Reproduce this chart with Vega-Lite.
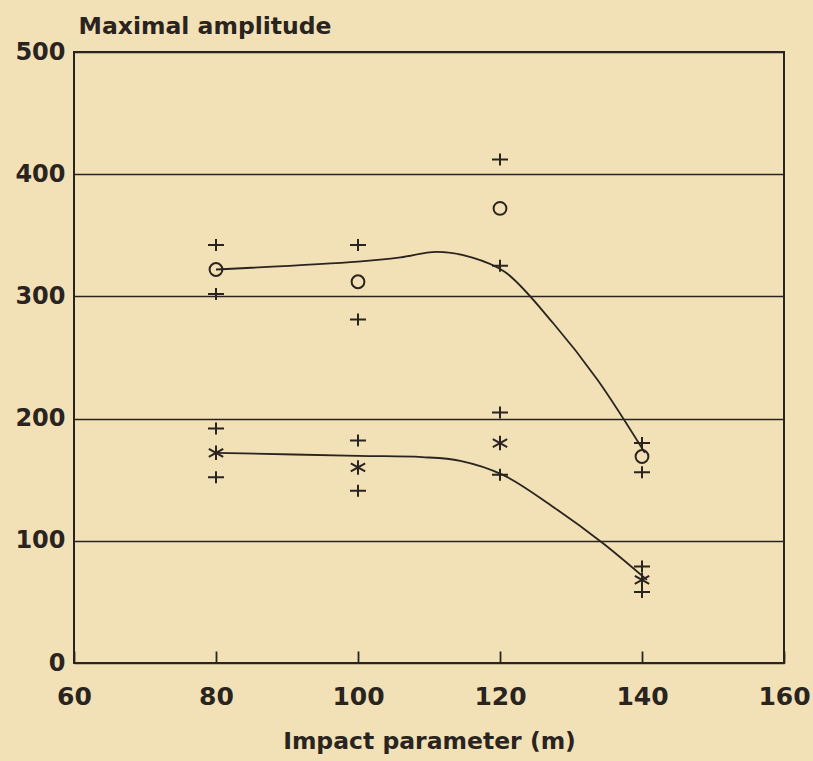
{
  "$schema": "https://vega.github.io/schema/vega-lite/v6.json",
  "width": 710,
  "height": 611,
  "autosize": "none",
  "padding": {"left": 74, "top": 52, "right": 29, "bottom": 98},
  "background": "#f2e0b6",
  "config": {
    "view": {"stroke": "#2a2420", "strokeWidth": 2},
    "font": "DejaVu Sans"
  },
  "datasets": {
    "pts": [
      {"x": 80, "y": 342, "kind": "plus"},
      {"x": 80, "y": 322, "kind": "circle"},
      {"x": 80, "y": 302, "kind": "plus"},
      {"x": 80, "y": 192, "kind": "plus"},
      {"x": 80, "y": 172, "kind": "star"},
      {"x": 80, "y": 152, "kind": "plus"},
      {"x": 100, "y": 342, "kind": "plus"},
      {"x": 100, "y": 312, "kind": "circle"},
      {"x": 100, "y": 281, "kind": "plus"},
      {"x": 100, "y": 182, "kind": "plus"},
      {"x": 100, "y": 160, "kind": "star"},
      {"x": 100, "y": 141, "kind": "plus"},
      {"x": 120, "y": 412, "kind": "plus"},
      {"x": 120, "y": 372, "kind": "circle"},
      {"x": 120, "y": 325, "kind": "plus"},
      {"x": 120, "y": 205, "kind": "plus"},
      {"x": 120, "y": 180, "kind": "star"},
      {"x": 120, "y": 154, "kind": "plus"},
      {"x": 140, "y": 180, "kind": "plus"},
      {"x": 140, "y": 169, "kind": "circle"},
      {"x": 140, "y": 156, "kind": "plus"},
      {"x": 140, "y": 79, "kind": "plus"},
      {"x": 140, "y": 68, "kind": "star"},
      {"x": 140, "y": 58, "kind": "plus"}
    ],
    "curves": [
      {"x": 80, "y": 322, "s": "upper"},
      {"x": 100, "y": 328.5, "s": "upper"},
      {"x": 106, "y": 332, "s": "upper"},
      {"x": 111, "y": 336.5, "s": "upper"},
      {"x": 116, "y": 332, "s": "upper"},
      {"x": 120.7, "y": 320, "s": "upper"},
      {"x": 127.5, "y": 278, "s": "upper"},
      {"x": 133.7, "y": 232, "s": "upper"},
      {"x": 140.4, "y": 172, "s": "upper"},
      {"x": 80, "y": 172, "s": "lower"},
      {"x": 100, "y": 169.5, "s": "lower"},
      {"x": 109, "y": 168.5, "s": "lower"},
      {"x": 114.4, "y": 165.5, "s": "lower"},
      {"x": 120.4, "y": 154, "s": "lower"},
      {"x": 127.5, "y": 127.7, "s": "lower"},
      {"x": 134.5, "y": 98, "s": "lower"},
      {"x": 140.7, "y": 68, "s": "lower"}
    ]
  },
  "layer": [
    {
      "data": {"name": "curves"},
      "mark": {"type": "line", "interpolate": "catmull-rom", "color": "#2a2420", "strokeWidth": 1.8},
      "encoding": {
        "x": {
          "field": "x", "type": "quantitative",
          "scale": {"domain": [60, 160], "nice": false, "zero": false},
          "axis": {
            "values": [60, 80, 100, 120, 140, 160],
            "title": "Impact parameter (m)",
            "grid": false,
            "domain": false,
            "offset": -12,
            "tickSize": 12,
            "tickColor": "#2a2420",
            "tickWidth": 1.8,
            "labelPadding": 21,
            "labelFontWeight": "bold",
            "labelFontSize": 25,
            "labelColor": "#2a2420",
            "labelFlush": false,
            "titleFontWeight": "bold",
            "titleFontSize": 23.5,
            "titleColor": "#2a2420",
            "titlePadding": 20
          }
        },
        "y": {
          "field": "y", "type": "quantitative",
          "scale": {"domain": [0, 500], "nice": false},
          "axis": {
            "values": [0, 100, 200, 300, 400, 500],
            "title": "Maximal amplitude",
            "titleAngle": 0,
            "titleAlign": "left",
            "titleBaseline": "alphabetic",
            "titleX": 4,
            "titleY": -19,
            "titleFontWeight": "bold",
            "titleFontSize": 23.5,
            "titleColor": "#2a2420",
            "grid": true,
            "gridColor": "#2a2420",
            "gridWidth": 1.5,
            "gridOpacity": 1,
            "domain": false,
            "ticks": false,
            "labelPadding": 9,
            "labelFontWeight": "bold",
            "labelFontSize": 24,
            "labelColor": "#2a2420",
            "labelFlush": false
          }
        },
        "detail": {"field": "s"}
      }
    },
    {
      "data": {"name": "pts"},
      "mark": {"type": "point", "filled": false, "color": "#2a2420", "strokeWidth": 2, "size": 256, "opacity": 1},
      "encoding": {
        "x": {"field": "x", "type": "quantitative"},
        "y": {"field": "y", "type": "quantitative"},
        "shape": {
          "field": "kind", "type": "nominal",
          "scale": {
            "domain": ["plus", "circle", "star"],
            "range": [
              "M-1,0H1M0,-0.75V0.75",
              "M-0.8,0A0.8,0.8 0 1,0 0.8,0A0.8,0.8 0 1,0 -0.8,0Z",
              "M0,-0.9V0.9M-0.9,-0.5L0.9,0.5M-0.9,0.5L0.9,-0.5"
            ]
          },
          "legend": null
        }
      }
    }
  ]
}
